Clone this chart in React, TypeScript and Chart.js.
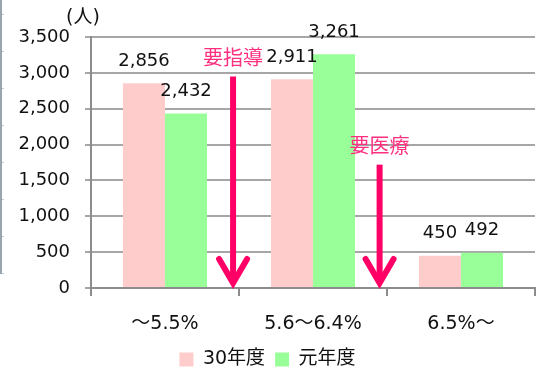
import React, { useEffect, useRef } from 'react';
import { Chart, registerables } from 'chart.js';

Chart.register(...registerables);

const categories = ['～5.5%', '5.6～6.4%', '6.5%～'];
const seriesNames = ['30年度', '元年度'];
const valuesH30 = [2856, 2911, 450];
const valuesR1 = [2432, 3261, 492];
const yTickValues = [0, 500, 1000, 1500, 2000, 2500, 3000, 3500];
const yUnitLabel = '(人)';
const noteLabels = ['要指導', '要医療'];
const noteCategoryPos = [0.46, 1.45];
const noteTopValues = [2950, 1720];

const FONT = "'DejaVu Sans', 'Noto Sans CJK JP', sans-serif";
const PINK = '#FFCCCC';
const GREEN = '#99FF99';
const MAGENTA = '#FF0066';

const labelsPlugin = {
  id: 'valueLabels',
  afterDatasetsDraw(chart: any) {
    const ctx = chart.ctx;
    ctx.save();
    ctx.font = `18px ${FONT}`;
    ctx.fillStyle = '#111';
    ctx.textAlign = 'center';
    ctx.textBaseline = 'middle';
    chart.data.datasets.forEach((ds: any, di: number) => {
      const meta = chart.getDatasetMeta(di);
      meta.data.forEach((el: any, i: number) => {
        const v = ds.data[i] as number;
        ctx.fillText(v.toLocaleString('en-US'), el.x, el.y - 22);
      });
    });
    ctx.restore();
  },
};

const notesPlugin = {
  id: 'notes',
  afterDraw(chart: any) {
    const ctx = chart.ctx;
    const xs = chart.scales.x;
    const ys = chart.scales.y;
    const area = chart.chartArea;
    ctx.save();
    ctx.font = `19px ${FONT}`;
    ctx.fillStyle = '#111';
    ctx.textAlign = 'center';
    ctx.textBaseline = 'middle';
    ctx.fillText(yUnitLabel, area.left - 8, area.top - 19);
    noteLabels.forEach((txt, i) => {
      const x = xs.getPixelForValue(noteCategoryPos[i]);
      const yTop = ys.getPixelForValue(noteTopValues[i]);
      const yBot = area.bottom - 2;
      ctx.strokeStyle = MAGENTA;
      ctx.lineWidth = 6;
      ctx.lineCap = 'butt';
      ctx.beginPath();
      ctx.moveTo(x, yTop);
      ctx.lineTo(x, yBot - 4);
      ctx.stroke();
      ctx.lineCap = 'round';
      ctx.lineJoin = 'miter';
      ctx.beginPath();
      ctx.moveTo(x - 14, yBot - 27);
      ctx.lineTo(x, yBot - 3);
      ctx.lineTo(x + 14, yBot - 27);
      ctx.stroke();
      ctx.font = `20px ${FONT}`;
      ctx.fillStyle = '#FF2F80';
      ctx.textAlign = 'center';
      ctx.textBaseline = 'middle';
      ctx.fillText(txt, x, yTop - 17);
    });
    ctx.restore();
  },
};

export default function App() {
  const ref = useRef<HTMLCanvasElement>(null);
  useEffect(() => {
    if (!ref.current) return;
    const chart = new Chart(ref.current, {
      type: 'bar',
      data: {
        labels: categories,
        datasets: [
          { label: seriesNames[0], data: valuesH30, backgroundColor: PINK, borderWidth: 0 },
          { label: seriesNames[1], data: valuesR1, backgroundColor: GREEN, borderWidth: 0 },
        ],
      },
      options: {
        animation: false,
        responsive: false,
        maintainAspectRatio: false,
        layout: { padding: { top: 37, right: 1, left: 0, bottom: -12 } },
        datasets: { bar: { barPercentage: 1, categoryPercentage: 0.568 } },
        plugins: {
          legend: {
            position: 'bottom',
            labels: {
              boxWidth: 14,
              boxHeight: 14,
              padding: 10,
              color: '#111',
              font: { family: FONT, size: 19 },
            },
          },
          tooltip: { enabled: false },
        },
        scales: {
          x: {
            afterFit: (s: any) => { s.height = 52; },
            grid: {
              offset: true,
              drawOnChartArea: false,
              drawTicks: true,
              tickLength: 8,
              color: '#8C8C8C',
              lineWidth: 2,
            },
            border: { color: '#8C8C8C', width: 2 },
            ticks: { color: '#111', font: { family: FONT, size: 19 }, padding: 17 },
          },
          y: {
            min: 0,
            max: 3500,
            afterFit: (s: any) => { s.width = 91; },
            afterBuildTicks: (s: any) => { s.ticks = yTickValues.map((v) => ({ value: v })); },
            grid: { color: '#A6A6A6', lineWidth: 2, tickLength: 6 },
            border: { color: '#8C8C8C', width: 2 },
            ticks: {
              color: '#111',
              font: { family: FONT, size: 18 },
              padding: 15,
              callback: (v: any) => Number(v).toLocaleString('en-US'),
            },
          },
        },
      },
      plugins: [labelsPlugin, notesPlugin],
    } as any);
    return () => chart.destroy();
  }, []);
  return (
    <div style={{ position: 'fixed', left: 0, top: 0, width: 536, height: 367, background: '#fff' }}>
      <div
        style={{
          position: 'absolute',
          left: 0,
          top: 0,
          width: 4,
          height: 274,
          borderLeft: '2px solid #9AA4AE',
          boxSizing: 'border-box',
          backgroundImage: 'repeating-linear-gradient(to bottom, transparent 0px, transparent 14px, #C5CCD2 14px, #C5CCD2 15px, transparent 15px, transparent 37px)',
        }}
      />
      <canvas ref={ref} width={536} height={367} style={{ display: 'block' }} />
    </div>
  );
}
